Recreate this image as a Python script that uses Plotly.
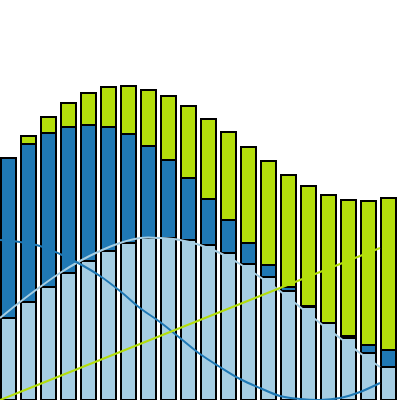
import plotly.graph_objects as go

# one value per column, bottom to top of the stack
idx = list(range(20))
light = [82, 98, 113, 127, 139, 149, 157, 162, 162, 160, 155, 147, 136, 123, 109, 93, 77, 62, 47, 33]
dark = [160, 158, 154, 146, 136, 124, 109, 92, 78, 62, 46, 33, 21, 12, 4, 1, 0, 2, 8, 17]
lime = [0, 8, 16, 24, 32, 40, 48, 56, 64, 72, 80, 88, 96, 104, 112, 120, 128, 136, 144, 152]

c_light = "#a6cee3"
c_dark = "#1f78b4"
c_lime = "#b4de0b"

fig = go.Figure()

for vals, col in [(light, c_light), (dark, c_dark), (lime, c_lime)]:
    fig.add_trace(go.Bar(
        x=idx, y=vals,
        width=0.77, offset=0.04,
        marker=dict(color=col, line=dict(color="black", width=1.5)),
        showlegend=False,
    ))

for vals, col in [(light, c_light), (dark, c_dark), (lime, c_lime)]:
    fig.add_trace(go.Scatter(
        x=idx, y=vals,
        mode="lines",
        line=dict(color=col, width=2, shape="spline"),
        showlegend=False,
    ))

fig.update_layout(
    width=400, height=400,
    margin=dict(l=0, r=0, t=0, b=0),
    barmode="stack",
    paper_bgcolor="white", plot_bgcolor="white",
    showlegend=False,
)
fig.update_xaxes(range=[0, 20], visible=False)
fig.update_yaxes(range=[0, 400], visible=False)

# drop the default body margin so the plot fills the window
fig.write_html("out.html", config={"displayModeBar": False},
               post_script="document.body.style.margin='0';")
